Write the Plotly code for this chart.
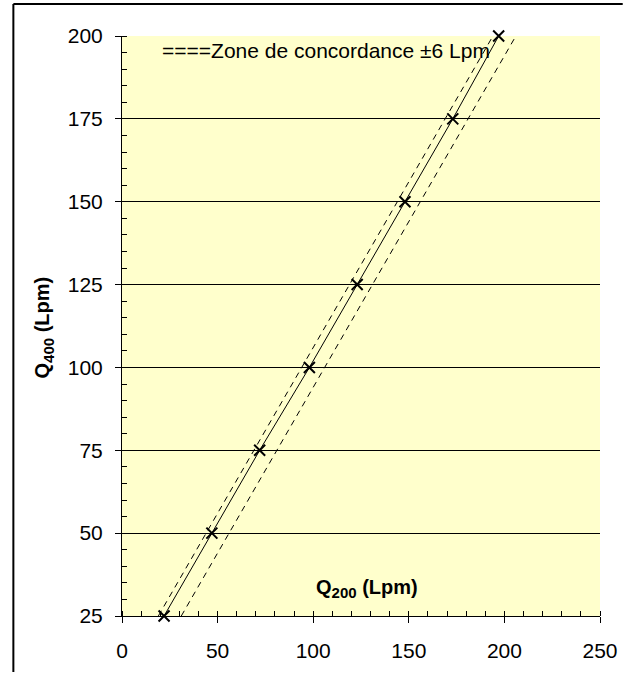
import plotly.graph_objects as go

# Data
q400 = [25, 50, 75, 100, 125, 150, 175, 200]
q200 = [22, 47, 72, 98, 123, 148, 173, 197]

band_upper_x = [19, 194]
band_upper_y = [25, 200]
band_lower_x = [31, 206]
band_lower_y = [25, 200]

x_ticks = [0, 50, 100, 150, 200, 250]
y_ticks = [25, 50, 75, 100, 125, 150, 175, 200]

FONT = "Liberation Sans, Arial, sans-serif"

W, H = 630, 674
L, R, T, B = 122, 24, 36, 57
pw, ph = W - L - R, H - T - B

def px_x(px):
    return (px - L) / pw

def px_y(py):
    return (H - B - py) / ph

fig = go.Figure()

fig.add_trace(go.Scatter(x=band_upper_x, y=band_upper_y, mode="lines",
                         line=dict(color="black", width=1, dash="6px,5px"),
                         cliponaxis=False, showlegend=False, hoverinfo="skip"))
fig.add_trace(go.Scatter(x=band_lower_x, y=band_lower_y, mode="lines",
                         line=dict(color="black", width=1, dash="6px,5px"),
                         cliponaxis=False, showlegend=False, hoverinfo="skip"))
fig.add_trace(go.Scatter(x=q200, y=q400, mode="lines+markers",
                         line=dict(color="black", width=1),
                         marker=dict(symbol="x-thin", size=11, color="black",
                                     line=dict(color="black", width=2)),
                         cliponaxis=False, showlegend=False))

fig.update_xaxes(range=[0, 250], tickvals=x_ticks, ticktext=[str(v) for v in x_ticks],
                 showgrid=False, zeroline=False, showline=True, linecolor="black",
                 linewidth=1, ticks="outside", ticklen=6, tickcolor="black",
                 ticklabelstandoff=10,
                 tickfont=dict(family=FONT, size=21, color="black"),
                 minor=dict(dtick=10, ticks="inside", ticklen=5, tickcolor="black",
                            showgrid=False))
fig.update_yaxes(range=[25, 200], tickvals=y_ticks, ticktext=[str(v) for v in y_ticks],
                 showgrid=True, gridcolor="black", gridwidth=1, zeroline=False,
                 showline=True, linecolor="black", linewidth=1,
                 ticks="outside", ticklen=6, tickcolor="black",
                 ticklabelstandoff=8,
                 tickfont=dict(family=FONT, size=21, color="black"),
                 minor=dict(dtick=5, ticks="inside", ticklen=5, tickcolor="black",
                            showgrid=False))

fig.add_annotation(text="====Zone de concordance ±6 Lpm", xref="paper", yref="paper",
                   x=px_x(160), y=px_y(51), xanchor="left", yanchor="middle",
                   showarrow=False, font=dict(family=FONT, size=21, color="black"))
fig.add_annotation(text="<b>Q<sub><span style='font-size:15px'>200</span></sub> (Lpm)</b>",
                   xref="paper", yref="paper",
                   x=px_x(370), y=px_y(589), xanchor="center", yanchor="middle",
                   showarrow=False, font=dict(family=FONT, size=20, color="black"))
fig.add_annotation(text="<b>Q<sub><span style='font-size:15px'>400</span></sub> (Lpm)</b>",
                   xref="paper", yref="paper",
                   x=px_x(43), y=px_y(328), xanchor="center", yanchor="middle",
                   textangle=-90,
                   showarrow=False, font=dict(family=FONT, size=20, color="black"))

# outer chart border (cropped at right/bottom)
fig.add_shape(type="line", xref="paper", yref="paper",
              x0=px_x(12), y0=px_y(4), x1=px_x(629), y1=px_y(4),
              line=dict(color="black", width=2))
fig.add_shape(type="line", xref="paper", yref="paper",
              x0=px_x(12), y0=px_y(4), x1=px_x(12), y1=px_y(673),
              line=dict(color="black", width=2))

fig.update_layout(width=W, height=H, margin=dict(l=L, r=R, t=T, b=B),
                  plot_bgcolor="#FFFFCC", paper_bgcolor="white",
                  font=dict(family=FONT, color="black"))

fig.write_html("out.html")
